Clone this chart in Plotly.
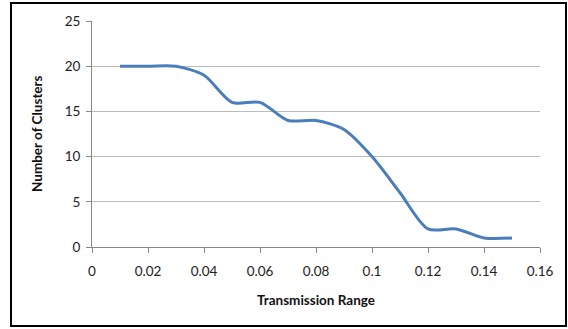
import plotly.graph_objects as go

transmission_range = [0.01, 0.02, 0.03, 0.04, 0.05, 0.06, 0.07, 0.08, 0.09, 0.10, 0.11, 0.12, 0.13, 0.14, 0.15]
num_clusters = [20, 20, 20, 19, 16, 16, 14, 14, 13, 10, 6, 2, 2, 1, 1]
x_ticks = [0, 0.02, 0.04, 0.06, 0.08, 0.1, 0.12, 0.14, 0.16]
x_tick_labels = ["0", "0.02", "0.04", "0.06", "0.08", "0.1", "0.12", "0.14", "0.16"]
y_ticks = [0, 5, 10, 15, 20, 25]

W, H = 568, 329
L, R, T, B = 92, 28, 21, 82
pw, ph = W - L - R, H - T - B

def px_to_paper_x(px):
    return (px - L) / pw

def py_to_paper_y(py):
    return (H - B - py) / ph

fig = go.Figure()
fig.add_trace(go.Scatter(
    x=transmission_range, y=num_clusters, mode="lines",
    line=dict(color="#4A7EBB", width=3, shape="spline", smoothing=0.8),
    showlegend=False, hoverinfo="skip"))

font_family = "Lato, 'Open Sans', sans-serif"
fig.update_layout(
    width=W, height=H,
    margin=dict(l=L, r=R, t=T, b=B),
    paper_bgcolor="white", plot_bgcolor="white",
    font=dict(family=font_family, size=13.5, color="#222222"),
    xaxis=dict(range=[0, 0.16], tickvals=x_ticks, ticktext=x_tick_labels,
               showgrid=False, zeroline=False, showline=True, linecolor="#888888", linewidth=1,
               ticks="outside", ticklen=5, tickcolor="#888888", ticklabelstandoff=7,
               tickfont=dict(size=13.5, color="#222222")),
    yaxis=dict(range=[0, 25], tickvals=y_ticks,
               showgrid=True, gridcolor="#BBBBBB", gridwidth=1, zeroline=False,
               showline=True, linecolor="#888888", linewidth=1,
               ticks="outside", ticklen=5, tickcolor="#888888", ticklabelstandoff=3,
               tickfont=dict(size=13.5, color="#222222")),
    annotations=[
        dict(text="<b>Transmission Range</b>", xref="paper", yref="paper",
             x=px_to_paper_x(316), y=py_to_paper_y(300), xanchor="center", yanchor="middle",
             showarrow=False, font=dict(size=13.5, color="#111111")),
        dict(text="<b>Number of Clusters</b>", xref="paper", yref="paper",
             x=px_to_paper_x(37), y=py_to_paper_y(134), xanchor="center", yanchor="middle",
             textangle=-90, showarrow=False, font=dict(size=13.5, color="#111111")),
    ],
    shapes=[dict(type="rect", xref="paper", yref="paper",
                 x0=px_to_paper_x(11), x1=px_to_paper_x(566),
                 y0=py_to_paper_y(326), y1=py_to_paper_y(3),
                 line=dict(color="black", width=2), fillcolor="rgba(0,0,0,0)", layer="below")],
)

fig.write_html("out.html")
